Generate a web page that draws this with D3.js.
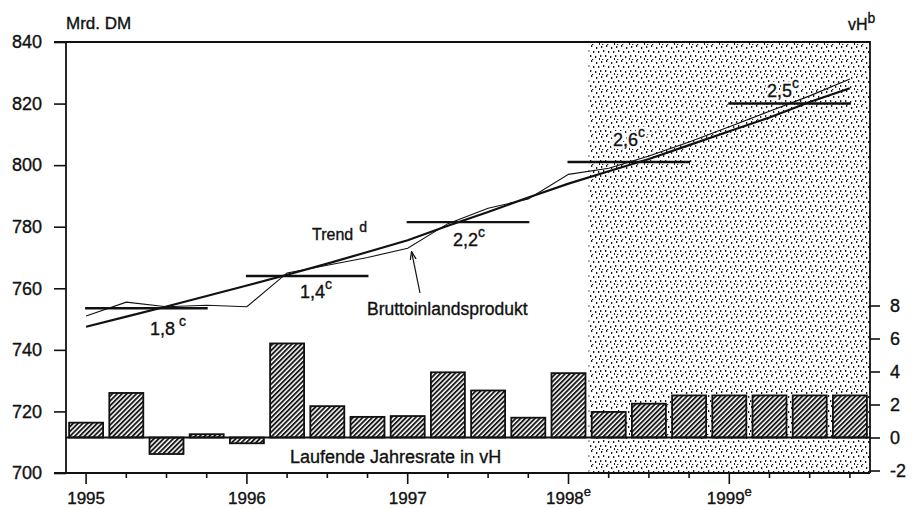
<!DOCTYPE html>
<html><head><meta charset="utf-8">
<script src="https://cdn.jsdelivr.net/npm/d3@7"></script>
<style>
body{margin:0;background:#fff}
svg{display:block}
text{font-family:"Liberation Sans",Arial,Helvetica,sans-serif;fill:#111;stroke:#111;stroke-width:0.35px}
text.halo{fill:#fff;stroke:#fff;stroke-width:5px;stroke-linejoin:round}
</style>
</head><body>
<svg id="chart" width="913" height="509"></svg>
<script>
// ---- data ----
const quarters = ["1995Q1","1995Q2","1995Q3","1995Q4","1996Q1","1996Q2","1996Q3","1996Q4",
  "1997Q1","1997Q2","1997Q3","1997Q4","1998Q1","1998Q2","1998Q3","1998Q4",
  "1999Q1","1999Q2","1999Q3","1999Q4"];
const bip = [751,755.5,754,754.5, 754,765,767.5,770, 773,781,786,789, 797,799,803,807.5, 812.5,817.5,822.5,828];
const trend = [747.5,750.8,754.1,757.5,760.9,764.4,768,771.8,775.6,780.3,784.8,789.5,794,798,802,806.5,811,815.5,820.5,825];
const rates = [0.9,2.7,-1.0,0.2, -0.35,5.7,1.9,1.25, 1.3,3.95,2.85,1.2, 3.9,1.55,2.05,2.55, 2.55,2.55,2.55,2.55];
const years = ["1995","1996","1997","1998","1999"];
const yearSup = ["","","","e","e"];
const annualAvg = [753.5,764,781.5,801,820];
const annualLabels = ["1,8","1,4","2,2","2,6","2,5"];
const leftTicks = [700,720,740,760,780,800,820,840];
const rightTicks = [-2,0,2,4,6,8];
const forecastFrom = 12.5; // quarter index where forecast shading begins

// ---- layout ----
const svg = d3.select("#chart");
const L = 66, R = 870, T = 42, B = 473;
const x = d3.scaleLinear().domain([-0.5, 19.5]).range([L, R]);
const y = d3.scaleLinear().domain([700, 840]).range([B, T]);
const yR = d3.scaleLinear().domain([-2, 8]).range([470.5, 305.5]);

const defs = svg.append("defs");
// stipple pattern
const dots = defs.append("pattern").attr("id","dots").attr("patternUnits","userSpaceOnUse")
  .attr("width",15).attr("height",15);
dots.append("rect").attr("width",15).attr("height",15).attr("fill","#fff");
[[1,1],[6,0],[11,2],[3,5],[8,6],[13,6],[0,10],[5,10],[10,11],[14,13],[2,14],[7,14]].forEach(p=>{
  dots.append("rect").attr("x",p[0]).attr("y",p[1]).attr("width",1.3).attr("height",2).attr("fill","#1a1a1a");
});
// hatch pattern
const hatch = defs.append("pattern").attr("id","hatch").attr("patternUnits","userSpaceOnUse")
  .attr("width",3.4).attr("height",3.4).attr("patternTransform","rotate(45)");
hatch.append("rect").attr("width",3.4).attr("height",3.4).attr("fill","#fff");
hatch.append("rect").attr("x",0).attr("y",0).attr("width",1.9).attr("height",3.4).attr("fill","#1a1a1a");
defs.append("marker").attr("id","arr").attr("viewBox","0 0 10 10").attr("refX",9).attr("refY",5)
  .attr("markerWidth",7).attr("markerHeight",7).attr("orient","auto")
  .append("path").attr("d","M0,1.5 L10,5 L0,8.5").attr("fill","none").attr("stroke","#111").attr("stroke-width",1.5);

// forecast shading
svg.append("rect").attr("x", x(forecastFrom)).attr("y", T)
  .attr("width", R - x(forecastFrom)).attr("height", B - T).attr("fill","url(#dots)");

// bars
const bw = 34;
svg.append("g").selectAll("rect").data(rates).join("rect")
  .attr("x",(d,i)=>x(i)-bw/2)
  .attr("y",d=>yR(Math.max(0,d)))
  .attr("width",bw)
  .attr("height",d=>Math.abs(yR(d)-yR(0)))
  .attr("fill","url(#hatch)").attr("stroke","#111").attr("stroke-width",1.8);

// zero line for rates
svg.append("line").attr("x1",L).attr("x2",R).attr("y1",yR(0)).attr("y2",yR(0))
  .attr("stroke","#111").attr("stroke-width",2.2);

// frame
svg.append("path").attr("d",`M${L-12},${T}H${R}V${B}`).attr("fill","none").attr("stroke","#111").attr("stroke-width",1.8);
svg.append("line").attr("x1",L).attr("x2",L).attr("y1",T).attr("y2",B).attr("stroke","#111").attr("stroke-width",1.8);
svg.append("line").attr("x1",L-12).attr("x2",R).attr("y1",B).attr("y2",B).attr("stroke","#111").attr("stroke-width",2.2);

// left axis
const gl = svg.append("g").attr("transform",`translate(${L},0)`)
  .call(d3.axisLeft(y).tickValues(leftTicks).tickSize(12).tickPadding(12).tickFormat(d3.format("d")));
gl.select(".domain").remove();
gl.selectAll("line").attr("stroke","#111").attr("stroke-width",1.6);
gl.selectAll("text").attr("font-size",18).attr("font-family","Liberation Sans, Arial, sans-serif").attr("fill","#111");

// right axis
const gr = svg.append("g").attr("transform",`translate(${R},0)`)
  .call(d3.axisRight(yR).tickValues(rightTicks).tickSize(10).tickPadding(10).tickFormat(d=>String(d)));
gr.select(".domain").remove();
gr.selectAll("line").attr("stroke","#111").attr("stroke-width",1.6);
gr.selectAll("text").attr("font-size",18).attr("font-family","Liberation Sans, Arial, sans-serif").attr("fill","#111");

// bottom axis ticks
const gb = svg.append("g").attr("transform",`translate(0,${B})`);
gb.selectAll("line").data(quarters).join("line")
  .attr("x1",(d,i)=>x(i)).attr("x2",(d,i)=>x(i))
  .attr("y1",0).attr("y2",(d,i)=> i%4===0 ? 11 : 5)
  .attr("stroke","#111").attr("stroke-width",1.6);
const yl = gb.selectAll("text").data(years).join("text")
  .attr("x",(d,i)=>x(i*4)).attr("y",31).attr("text-anchor","middle").attr("font-size",17);
yl.append("tspan").text(d=>d);
yl.append("tspan").attr("dy",-8).attr("font-size",13).text((d,i)=>yearSup[i]);

// axis titles
svg.append("text").attr("x",L).attr("y",29).attr("font-size",17).text("Mrd. DM");
const vh = svg.append("text").attr("x",848).attr("y",30).attr("font-size",16);
vh.append("tspan").text("vH");
vh.append("tspan").attr("dy",-7).attr("font-size",14).text("b");

// annual rate labels (with white halo inside the forecast area)
const labelPos = [[150,335,4],[300,298,0],[453,246,0],[613,146,0],[767,97,0]];
annualLabels.forEach((t,i)=>{
  ["halo","main"].forEach(cls=>{
    if (cls==="halo" && i<3) return;
    const tx = svg.append("text").attr("class",cls==="halo"?"halo":null)
      .attr("x",labelPos[i][0]).attr("y",labelPos[i][1]).attr("font-size",18);
    tx.append("tspan").text(t);
    tx.append("tspan").attr("dx",labelPos[i][2]).attr("dy",-9).attr("font-size",14).text("c");
  });
});

// lines
const line = d3.line().x((d,i)=>x(i)).y(d=>y(d));
svg.append("path").datum(bip).attr("d",line).attr("fill","none").attr("stroke","#111").attr("stroke-width",1.1);
svg.append("path").datum(trend).attr("d",line).attr("fill","none").attr("stroke","#111").attr("stroke-width",2.2);

// annual average segments
svg.append("g").selectAll("line").data(annualAvg).join("line")
  .attr("x1",(d,i)=>x(i*4)-1).attr("x2",(d,i)=>x(i*4+3)+1)
  .attr("y1",d=>y(d)).attr("y2",d=>y(d))
  .attr("stroke","#111").attr("stroke-width",2.4);

// Trend label
const tr = svg.append("text").attr("x",312).attr("y",240).attr("font-size",16);
tr.append("tspan").text("Trend");
tr.append("tspan").attr("dx",6).attr("dy",-8).attr("font-size",14).text("d");

// BIP label + arrow
svg.append("text").attr("x",367).attr("y",315).attr("font-size",17.5).text("Bruttoinlandsprodukt");
svg.append("line").attr("x1",420).attr("y1",293).attr("x2",x(8)+4).attr("y2",y(bip[8])+4)
  .attr("stroke","#111").attr("stroke-width",1.2).attr("marker-end","url(#arr)");

// rate caption
svg.append("text").attr("x",290).attr("y",463).attr("font-size",18).text("Laufende Jahresrate in vH");
</script>
</body></html>
